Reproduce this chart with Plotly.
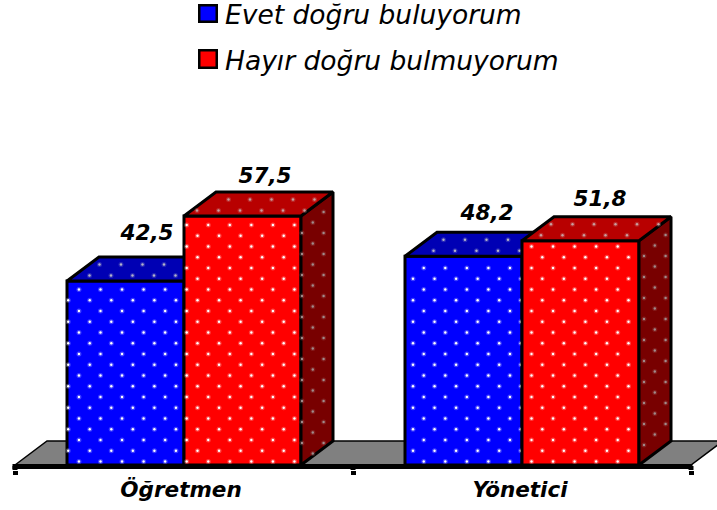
import plotly.graph_objects as go

categories = ["Öğretmen", "Yönetici"]
evet = [42.5, 48.2]
hayir = [57.5, 51.8]
value_labels_evet = ["42,5", "48,2"]
value_labels_hayir = ["57,5", "51,8"]
series_names = ["Evet doğru buluyorum", "Hayır doğru bulmuyorum"]
series_colors = ["#0000ff", "#ff0000"]

W, H = 717, 510
CAT_PX, CX0_PX, BASE_PX, UNIT_PX = 338.0, 184.0, 465.0, 4.33
BAR_PX, DX_PX, DY_PX = 117.0, 32.0, 24.0
PLOT_BOTTOM = 470
FONT = "DejaVu Sans"
OUTLINE = 3


def X(px):
    return (px - CX0_PX) / CAT_PX


def Y(py):
    return (BASE_PX - py) / UNIT_PX


def Px(v):
    return CX0_PX + v * CAT_PX


def Py(v):
    return BASE_PX - v * UNIT_PX


w = BAR_PX / CAT_PX
ddx, ddy = DX_PX / CAT_PX, DY_PX / UNIT_PX
xs = list(range(len(categories)))


def poly(points, color, axes, lw=OUTLINE):
    return go.Scatter(x=[p[0] for p in points] + [points[0][0]],
                      y=[p[1] for p in points] + [points[0][1]],
                      mode="lines", fill="toself", fillcolor=color,
                      line=dict(color="black", width=lw), hoverinfo="skip",
                      showlegend=False, xaxis=axes[0], yaxis=axes[1])


def dots(px_points, color, glow, axes):
    x = [X(p[0]) for p in px_points]
    y = [Y(p[1]) for p in px_points]
    common = dict(x=x, y=y, mode="markers", hoverinfo="skip", showlegend=False,
                  xaxis=axes[0], yaxis=axes[1])
    return [go.Scatter(marker=dict(size=5, color=glow, opacity=0.3, line=dict(width=0)), **common),
            go.Scatter(marker=dict(size=2.4, color=color, line=dict(width=0)), **common)]


def front_dots(x0, x1, top):
    out = []
    for k in range(-30, 30):
        py = 225 + 10.75 * k
        if not (top + 2 < py < BASE_PX - 1):
            continue
        phase = 0 if k % 2 == 0 else 10.8
        for j in range(-12, 40):
            px = 186.7 + phase + 21.55 * j
            if x0 < px < x1:
                out.append((px, py))
    return out


def top_dots(x0, x1, top):
    out = []
    for off, xph in ((7.5, 207.0), (18.5, 197.0)):
        py = top - DY_PX + off
        shift = (top - py) * DX_PX / DY_PX
        for j in range(-12, 40):
            px = xph + 21.5 * j
            if x0 + shift + 1 < px < x1 + shift - 1:
                out.append((px, py))
    return out


def side_dots(x1, top, col0, row0):
    out = []
    for c in range(0, 4):
        px = col0 + 10.8 * c
        if not (x1 - 0.5 < px < x1 + DX_PX - 1):
            continue
        f = (px - x1) / DX_PX
        ph = 0 if c % 2 == 0 else 10.5
        for r in range(-30, 30):
            py = row0 + ph + 21 * r
            if top - DY_PX * f + 2 < py < BASE_PX - DY_PX * f - 2:
                out.append((px, py))
    return out


fig = go.Figure()

# layer 1: floor
fl = [(-0.5, 0), (-0.5 + ddx, ddy), (1.5 + ddx, ddy), (1.5, 0)]
fig.add_trace(poly(fl, "#808080", ("x", "y"), lw=1.5))

# layer 2: first series
ax2 = ("x2", "y2")
fig.add_trace(go.Bar(x=xs, y=evet, width=w, offset=-w, name=series_names[0],
                     marker=dict(color=series_colors[0], line=dict(color="black", width=OUTLINE)),
                     showlegend=False, hoverinfo="skip", xaxis="x2", yaxis="y2"))
pts_front, pts_top = [], []
for i, v in enumerate(evet):
    l, r = i - w, i
    fig.add_trace(poly([(l, v), (l + ddx, v + ddy), (r + ddx, v + ddy), (r, v)], "#0000b4", ax2))
    pts_front += front_dots(Px(l), Px(r), Py(v))
    pts_top += top_dots(Px(l), Px(r), Py(v))
fig.add_traces(dots(pts_front, "white", "#ccccff", ax2))
fig.add_traces(dots(pts_top, "#b4b4c8", "#8888c8", ax2))

# layer 3: second series
ax3 = ("x3", "y3")
fig.add_trace(go.Bar(x=xs, y=hayir, width=w, offset=0, name=series_names[1],
                     marker=dict(color=series_colors[1], line=dict(color="black", width=OUTLINE)),
                     showlegend=False, hoverinfo="skip", xaxis="x3", yaxis="y3"))
pts_front, pts_top, pts_side = [], [], []
side_phase = [(302.0, 212.0), (644.0, 403.0)]
for i, v in enumerate(hayir):
    l, r = i, i + w
    fig.add_trace(poly([(r, 0), (r + ddx, ddy), (r + ddx, v + ddy), (r, v)], "#780000", ax3))
    fig.add_trace(poly([(l, v), (l + ddx, v + ddy), (r + ddx, v + ddy), (r, v)], "#b80000", ax3))
    pts_front += front_dots(Px(l), Px(r), Py(v))
    pts_top += top_dots(Px(l), Px(r), Py(v))
    pts_side += side_dots(Px(r), Py(v), *side_phase[i])
fig.add_traces(dots(pts_front, "white", "#ffcccc", ax3))
fig.add_traces(dots(pts_top, "#c8a0a0", "#c88888", ax3))
fig.add_traces(dots(pts_side, "#a08c8c", "#a06060", ax3))

# axis line with the tick roots joined to it
fig.add_trace(go.Scatter(x=[-0.5 - 2.5 / CAT_PX, 1.5 + 1.5 / CAT_PX], y=[Y(466.5), Y(466.5)], mode="lines",
                         line=dict(color="black", width=5), hoverinfo="skip", showlegend=False,
                         xaxis="x3", yaxis="y3"))
stub_x, stub_y = [], []
for t in (-0.5, 0.5, 1.5):
    stub_x += [t, t, None]
    stub_y += [Y(466), Y(PLOT_BOTTOM), None]
fig.add_trace(go.Scatter(x=stub_x, y=stub_y, mode="lines", line=dict(color="black", width=5), hoverinfo="skip",
                         showlegend=False, xaxis="x3", yaxis="y3"))

# value labels
lab_x = [X(147), X(487), X(265), X(600)]
lab_y = [Y(235), Y(215), Y(178), Y(201)]
fig.add_trace(go.Scatter(x=lab_x, y=lab_y, mode="text",
                         text=[value_labels_evet[0], value_labels_evet[1], value_labels_hayir[0], value_labels_hayir[1]],
                         textposition="middle center",
                         textfont=dict(family=FONT, size=21.5, color="black", weight="bold", style="italic"),
                         hoverinfo="skip", showlegend=False, xaxis="x3", yaxis="y3"))

# legend (key squares + text)
PY = lambda p: 1 - p / PLOT_BOTTOM
key_rows = [(5.25, 21.75, 15.0), (50.25, 67.75, 60.5)]
shapes, annotations = [], []
for (y0, y1, yc), name, col in zip(key_rows, series_names, series_colors):
    shapes.append(dict(type="rect", xref="paper", yref="paper", x0=199.25 / W, x1=216.75 / W,
                       y0=PY(y1), y1=PY(y0), fillcolor=col, line=dict(color="black", width=2.5)))
    annotations.append(dict(text=name, xref="paper", yref="paper", x=224 / W, y=PY(yc), xanchor="left",
                            yanchor="middle", showarrow=False, xshift=-1,
                            font=dict(family=FONT, size=26.5, color="black", style="italic")))

xr = [X(0), X(W)]
yr = [Y(PLOT_BOTTOM), Y(0)]
hidden = dict(visible=False, fixedrange=True)
fig.update_layout(
    width=W, height=H, margin=dict(l=0, r=0, t=0, b=H - PLOT_BOTTOM),
    paper_bgcolor="white", plot_bgcolor="white", barmode="overlay", showlegend=False,
    font=dict(family=FONT, color="black"), shapes=shapes, annotations=annotations,
    xaxis=dict(range=xr, tickmode="array", tickvals=[X(181), X(520)], ticktext=categories, ticks="", showgrid=False,
               zeroline=False, showline=False, fixedrange=True, ticklabelstandoff=4,
               tickfont=dict(family=FONT, size=21.5, color="black", weight="bold", style="italic"),
               minor=dict(tickmode="array", tickvals=[-0.5, 0.5, 1.5], ticks="outside", ticklen=4,
                          tickwidth=5, tickcolor="black", showgrid=False)),
    yaxis=dict(range=yr, **hidden),
    xaxis2=dict(range=xr, overlaying="x", anchor="y2", **hidden),
    yaxis2=dict(range=yr, overlaying="y", anchor="x2", **hidden),
    xaxis3=dict(range=xr, overlaying="x", anchor="y3", **hidden),
    yaxis3=dict(range=yr, overlaying="y", anchor="x3", **hidden),
)

fig.write_html("out.html", config=dict(displayModeBar=False),
               post_script="document.body.style.margin='0';")
